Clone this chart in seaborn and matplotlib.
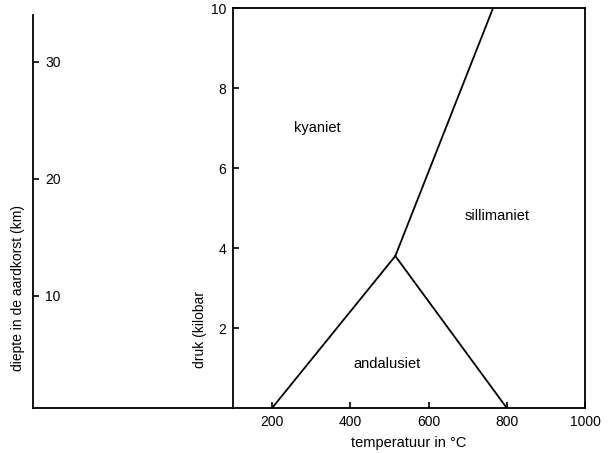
import matplotlib
matplotlib.use("Agg")
import matplotlib.pyplot as plt
import seaborn as sns
import pandas as pd

# phase boundaries (temperature in °C, pressure in kbar)
ky_and_T = [200, 515]
ky_and_P = [0, 3.8]
and_sil_T = [515, 800]
and_sil_P = [3.8, 0]
ky_sil_T = [515, 765]
ky_sil_P = [3.8, 10]

x_ticks = [200, 400, 600, 800, 1000]
y_ticks = [2, 4, 6, 8, 10]
depth_ticks = [10, 20, 30]

labels = ["kyaniet", "sillimaniet", "andalusiet"]
label_T = [315, 775, 495]
label_P = [7.0, 4.8, 1.1]

df = pd.concat([
    pd.DataFrame({"T": ky_and_T, "P": ky_and_P, "grens": "ky-and"}),
    pd.DataFrame({"T": and_sil_T, "P": and_sil_P, "grens": "and-sil"}),
    pd.DataFrame({"T": ky_sil_T, "P": ky_sil_P, "grens": "ky-sil"}),
])

sns.set_style("ticks")
plt.rcParams['font.family'] = ['Liberation Sans', 'DejaVu Sans']
for k in ["text.color", "axes.labelcolor", "xtick.color", "ytick.color",
          "axes.edgecolor"]:
    plt.rcParams[k] = "black"

fig = plt.figure(figsize=(6.12, 4.53), dpi=100)
W, H = 612, 453
ax = fig.add_axes([233 / W, (H - 408) / H, (585 - 233) / W, 400 / H])
axd = fig.add_axes([33 / W, (H - 408) / H, 200 / W, 400 / H])

sns.lineplot(data=df, x="T", y="P", units="grens", estimator=None,
             color="black", linewidth=1.3, ax=ax, sort=False)
ax.set_xlim(100, 1000)
ax.set_ylim(0, 10)
ax.set_xticks(x_ticks)
ax.set_yticks(y_ticks)
ax.tick_params(direction="in", length=4, width=1.2, labelsize=10, pad=5)
for s in ax.spines.values():
    s.set_linewidth(1.3)
    s.set_visible(True)
ax.set_xlabel("temperatuur in °C", fontsize=10.5, labelpad=5)
ax.set_ylabel("")
ax.text(-0.095, 0.195, "druk (kilobar", rotation=90, fontsize=10,
        transform=ax.transAxes, ha="center", va="center")
for lab, t, p in zip(labels, label_T, label_P):
    ax.text(t, p, lab, fontsize=10.5, ha="center", va="center")

# depth axis
axd.set_ylim(0.4, 34.6)
axd.set_xlim(0, 1)
axd.set_yticks(depth_ticks)
axd.set_xticks([])
axd.yaxis.tick_left()
axd.tick_params(axis="y", direction="in", length=4, width=1.2, labelsize=10,
                pad=-9)
for lab in axd.get_yticklabels():
    lab.set_horizontalalignment("left")
axd.spines["right"].set_visible(False)
axd.spines["top"].set_visible(False)
axd.spines["left"].set_linewidth(1.3)
axd.spines["bottom"].set_linewidth(1.3)
axd.spines["left"].set_bounds(0.4, 34.0)
axd.patch.set_alpha(0)
axd.text(-0.075, 0.3, "diepte in de aardkorst (km)", rotation=90, fontsize=10,
         transform=axd.transAxes, ha="center", va="center")

fig.savefig("out.png", dpi=100)
